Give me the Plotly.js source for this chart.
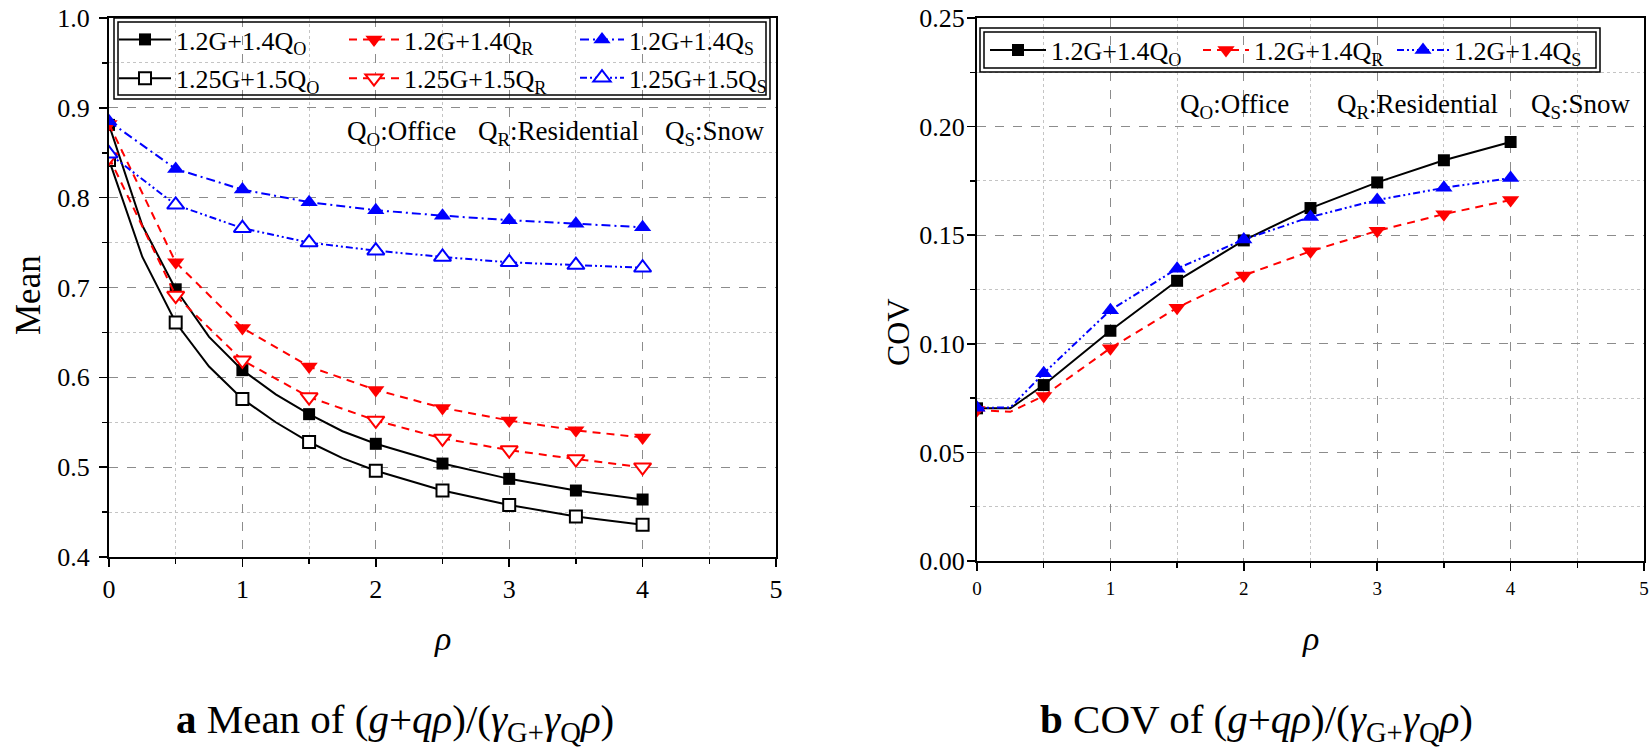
<!DOCTYPE html>
<html><head><meta charset="utf-8">
<script src="https://cdn.plot.ly/plotly-3.0.1.min.js"></script>
<style>html,body{margin:0;padding:0;background:#fff}#chart{width:1652px;height:749px}</style>
</head><body><div id="chart"></div>
<script>
// ---------- data ----------
const rho = [0, 0.5, 1, 1.5, 2, 2.5, 3, 3.5, 4];
const rhoFine = [0, 0.25, 0.5, 0.75, 1, 1.25, 1.5, 1.75, 2, 2.5, 3, 3.5, 4];
const rhoCov = [0, 0.25, 0.5, 1, 1.5, 2, 2.5, 3, 3.5, 4];

const meanO12  = [0.881, 0.769, 0.698, 0.645, 0.608, 0.581, 0.559, 0.540, 0.526, 0.504, 0.487, 0.474, 0.464];
const meanO125 = [0.842, 0.734, 0.661, 0.612, 0.576, 0.550, 0.528, 0.510, 0.496, 0.474, 0.458, 0.445, 0.436];
const meanR12  = [0.882, 0.728, 0.655, 0.612, 0.586, 0.566, 0.552, 0.541, 0.533];
const meanR125 = [0.845, 0.691, 0.619, 0.578, 0.552, 0.532, 0.519, 0.509, 0.500];
const meanS12  = [0.885, 0.832, 0.809, 0.795, 0.786, 0.780, 0.775, 0.771, 0.767];
const meanS125 = [0.849, 0.792, 0.766, 0.750, 0.741, 0.734, 0.728, 0.725, 0.722];

const covO = [0.0703, 0.0703, 0.081, 0.106, 0.129, 0.1476, 0.1625, 0.1743, 0.1845, 0.1929];
const covR = [0.0695, 0.0687, 0.076, 0.098, 0.1166, 0.1315, 0.1426, 0.152, 0.1597, 0.1662];
const covS = [0.0705, 0.0707, 0.0864, 0.1155, 0.1346, 0.148, 0.1584, 0.1662, 0.1718, 0.1763];

const names = ['1.2G+1.4Q<sub>O</sub>', '1.2G+1.4Q<sub>R</sub>', '1.2G+1.4Q<sub>S</sub>',
               '1.25G+1.5Q<sub>O</sub>', '1.25G+1.5Q<sub>R</sub>', '1.25G+1.5Q<sub>S</sub>'];

// ---------- styling helpers ----------
const W = 1652, H = 749;
const px = v => v / W, py = v => 1 - v / H;
const FONT = '"Liberation Serif", "Times New Roman", serif';
const SQ = 12, TRI = 15;
const NONE = 'rgba(0,0,0,0)';
// markers are shown on the 0.5-step points only
const fineVis = rhoFine.map(r => Math.abs(r * 2 - Math.round(r * 2)) < 1e-9);
const covVis = rhoCov.map(r => Math.abs(r * 2 - Math.round(r * 2)) < 1e-9);
const fineCol = c => fineVis.map(v => v ? c : NONE);
const covCol = c => covVis.map(v => v ? c : NONE);
const BLUE = '#0000ff', RED = '#ff0000';
const DASHED = '8px,6px';
const DASHDOT = '9px,4px,2px,4px';
const DASHDOTDOT = '7px,3px,2px,3px,2px,3px';

const traces = [
  {x: rhoFine, y: meanO12, name: names[0], legend: 'legend', legendgroup: 'a1', mode: 'lines+markers',
   line: {color: 'black', width: 2}, marker: {symbol: 'square', size: SQ, color: fineCol('black')}},
  {x: rhoFine, y: meanO125, name: names[3], legend: 'legend', legendgroup: 'a2', mode: 'lines+markers',
   line: {color: 'black', width: 2},
   marker: {symbol: 'square', size: SQ, color: fineCol('white'), line: {color: fineCol('black'), width: 2}}},
  {x: rho, y: meanR12, name: names[1], legend: 'legend2', legendgroup: 'b1', mode: 'lines+markers',
   line: {color: RED, width: 2, dash: DASHED}, marker: {symbol: 'triangle-down', size: TRI, color: RED}},
  {x: rho, y: meanR125, name: names[4], legend: 'legend2', legendgroup: 'b2', mode: 'lines+markers',
   line: {color: RED, width: 2, dash: DASHED}, marker: {symbol: 'triangle-down', size: TRI, color: 'white', line: {color: RED, width: 2}}},
  {x: rho, y: meanS12, name: names[2], legend: 'legend3', legendgroup: 'c1', mode: 'lines+markers',
   line: {color: BLUE, width: 2, dash: DASHDOT}, marker: {symbol: 'triangle-up', size: TRI, color: BLUE}},
  {x: rho, y: meanS125, name: names[5], legend: 'legend3', legendgroup: 'c2', mode: 'lines+markers',
   line: {color: BLUE, width: 2, dash: DASHDOTDOT}, marker: {symbol: 'triangle-up', size: TRI, color: 'white', line: {color: BLUE, width: 2}}},

  {x: rhoCov, y: covO, name: names[0], legend: 'legend4', xaxis: 'x2', yaxis: 'y2', mode: 'lines+markers',
   line: {color: 'black', width: 2}, marker: {symbol: 'square', size: SQ, color: covCol('black')}},
  {x: rhoCov, y: covR, name: names[1], legend: 'legend5', xaxis: 'x2', yaxis: 'y2', mode: 'lines+markers',
   line: {color: RED, width: 2, dash: DASHED}, marker: {symbol: 'triangle-down', size: TRI, color: covCol(RED)}},
  {x: rhoCov, y: covS, name: names[2], legend: 'legend6', xaxis: 'x2', yaxis: 'y2', mode: 'lines+markers',
   line: {color: BLUE, width: 2, dash: DASHDOTDOT}, marker: {symbol: 'triangle-up', size: TRI, color: covCol(BLUE)}}
];

function axis(extra) {
  return Object.assign({
    ticks: 'outside', ticklen: 8, tickwidth: 1.5, tickcolor: 'black',
    showline: true, linewidth: 2, linecolor: 'black', mirror: true,
    showgrid: true, gridcolor: '#8c8c8c', griddash: 'dash', gridwidth: 1,
    zeroline: false, tickfont: {family: FONT, size: 26, color: 'black'},
    ticklabelstandoff: 2
  }, extra);
}
function minor(d) {
  return {dtick: d, ticks: 'outside', ticklen: 5, tickcolor: 'black', tickwidth: 1.5,
          showgrid: true, gridcolor: '#c4c4c4', griddash: 'dot', gridwidth: 1};
}

const legendBase = {
  orientation: 'v', bgcolor: 'rgba(0,0,0,0)', borderwidth: 0,
  font: {family: FONT, size: 26, color: 'black'},
  itemsizing: 'trace', tracegroupgap: 2,
  xanchor: 'left', yanchor: 'middle', traceorder: 'grouped'
};
const leg = (x, y, itemwidth, extra) => Object.assign({}, legendBase, {x: px(x), y: py(y), itemwidth: itemwidth}, extra || {});

const rect = (x0, y0, x1, y1) => ({type: 'rect', xref: 'paper', yref: 'paper',
  x0: px(x0), x1: px(x1), y0: py(y0), y1: py(y1), line: {color: 'black', width: 1.5}});

const ann = (x, y, text, size, opts) => Object.assign({xref: 'paper', yref: 'paper', x: px(x), y: py(y),
  text: text, showarrow: false, font: {family: FONT, size: size, color: 'black'},
  xanchor: 'left', yanchor: 'middle'}, opts || {});

const layout = {
  width: W, height: H, margin: {l: 0, r: 0, t: 0, b: 0, autoexpand: false},
  paper_bgcolor: 'white', plot_bgcolor: 'white',
  font: {family: FONT, color: 'black'},
  xaxis: axis({domain: [px(109), px(776)], range: [0, 5], dtick: 1, tick0: 0, anchor: 'y',
               minor: minor(0.5), ticklabelstandoff: 0}),
  yaxis: axis({domain: [py(557), py(18)], range: [0.4, 1.0], dtick: 0.1, tick0: 0.4, tickformat: '.1f',
               anchor: 'x', minor: minor(0.05), ticklabelstandoff: 4}),
  xaxis2: axis({domain: [px(977), px(1644)], range: [0, 5], dtick: 1, tick0: 0, anchor: 'y2',
                minor: minor(0.5), tickfont: {family: FONT, size: 19, color: 'black'}, ticklabelstandoff: 1}),
  yaxis2: axis({domain: [py(561), py(18)], range: [0, 0.25], dtick: 0.05, tick0: 0, tickformat: '.2f',
                anchor: 'x2', minor: minor(0.025), ticklabelstandoff: -3}),
  legend:  leg(114, 59, 52),
  legend2: leg(344, 59, 50),
  legend3: leg(575, 59, 44, {font: {family: FONT, size: 25.5, color: 'black'}}),
  legend4: leg(985, 50, 56),
  legend5: leg(1198, 50, 46),
  legend6: leg(1392, 50, 52),
  shapes: [
    rect(114, 18, 770, 99), rect(118, 22, 766, 95),
    rect(980, 28, 1600, 72), rect(984, 32, 1596, 68)
  ],
  annotations: [
    ann(345, 133, 'Q<sub>O</sub>:Office', 27),
    ann(476, 133, 'Q<sub>R</sub>:Residential', 27),
    ann(663, 133, 'Q<sub>S</sub>:Snow', 27),
    ann(1178, 106, 'Q<sub>O</sub>:Office', 27),
    ann(1335, 106, 'Q<sub>R</sub>:Residential', 27),
    ann(1529, 106, 'Q<sub>S</sub>:Snow', 27),
    ann(28, 295, 'Mean', 35, {xanchor: 'center', textangle: -90}),
    ann(898, 332, 'COV', 32, {xanchor: 'center', textangle: -90}),
    ann(442, 638, '<i>ρ</i>', 34, {xanchor: 'center'}),
    ann(1310, 638, '<i>ρ</i>', 34, {xanchor: 'center'}),
    ann(174, 722, '<b>a</b> Mean of (<i>g</i>+<i>qρ</i>)/(<i>γ</i><sub>G+</sub><i>γ</i><sub>Q</sub><i>ρ</i>)', 41),
    ann(1038, 722, '<b>b</b> COV of (<i>g</i>+<i>qρ</i>)/(<i>γ</i><sub>G+</sub><i>γ</i><sub>Q</sub><i>ρ</i>)', 41)
  ]
};

Plotly.newPlot('chart', traces, layout, {displayModeBar: false, staticPlot: true});
</script>
</body></html>
